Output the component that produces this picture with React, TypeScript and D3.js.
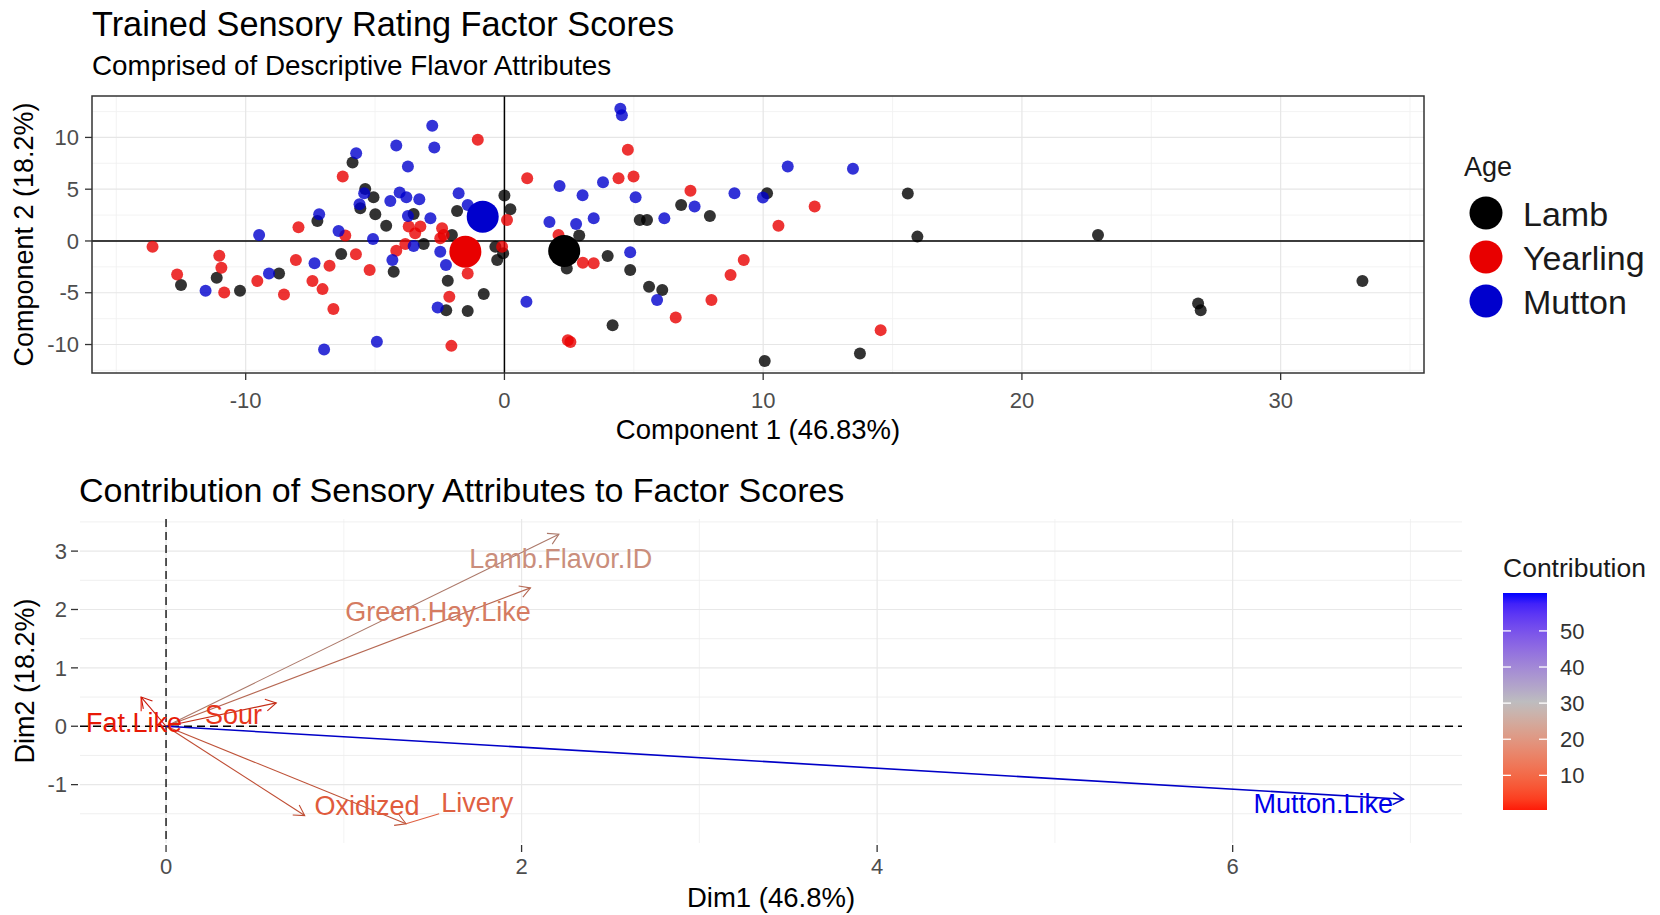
import React from 'react';
import * as d3 from 'd3';

// factor scores: [component 1, component 2]
const lambScores: [number, number][] = [
  [-5.87, 7.58], [-5.38, 5.03], [-5.06, 4.23], [-5.57, 3.16], [-4.99, 2.58], [0.0, 4.39],
  [0.23, 3.06], [-1.83, 2.9], [-3.51, 2.61], [-4.57, 1.48], [-2.03, 0.58], [-7.23, 1.94],
  [-11.12, -3.55], [-12.5, -4.26], [-10.22, -4.81], [-8.71, -3.13], [-6.31, -1.26], [-4.28, -2.97],
  [-3.12, -0.29], [-2.19, -3.84], [-2.25, -6.68], [-1.42, -6.77], [-0.8, -5.13], [-0.35, -0.55],
  [-0.28, -1.84], [-0.05, -1.19], [5.23, 2.03], [5.51, 2.03], [6.83, 3.48], [7.94, 2.42],
  [10.15, 4.61], [2.89, 0.52], [2.41, -2.65], [3.99, -1.45], [4.86, -2.81], [5.59, -4.42],
  [6.1, -4.74], [4.18, -8.13], [10.06, -11.58], [13.74, -10.87], [15.59, 4.58], [15.96, 0.42],
  [22.94, 0.58], [26.81, -6.03], [26.91, -6.68], [33.16, -3.87],
];
const yearlingScores: [number, number][] = [
  [-1.03, 9.77], [-6.25, 6.23], [0.88, 6.06], [0.1, 2.03], [-3.7, 1.39], [-3.45, 0.74],
  [-3.25, 1.39], [-2.41, 1.23], [-2.35, 0.58], [-7.96, 1.32], [-6.15, 0.52], [-13.6, -0.55],
  [-11.02, -1.42], [-10.94, -2.58], [-12.65, -3.23], [-10.83, -4.97], [-9.55, -3.87], [-8.52, -5.16],
  [-8.06, -1.84], [-5.74, -1.29], [-6.76, -2.39], [-7.42, -3.87], [-7.03, -4.65], [-6.61, -6.58],
  [-5.21, -2.81], [-4.18, -0.94], [-3.83, -0.29], [-2.48, 0.26], [-1.42, -3.13], [-2.13, -5.39],
  [-2.05, -10.13], [-0.09, -0.55], [4.77, 8.81], [4.41, 6.06], [4.99, 6.23], [7.19, 4.84],
  [11.99, 3.32], [10.59, 1.48], [2.09, 0.58], [3.03, -2.1], [3.45, -2.16], [9.25, -1.84],
  [8.74, -3.29], [8.0, -5.71], [6.62, -7.39], [2.45, -9.58], [2.55, -9.75], [14.54, -8.61],
];
const muttonScores: [number, number][] = [
  [-2.79, 11.13], [-4.18, 9.23], [-2.71, 9.03], [-5.73, 8.48], [-3.73, 7.19], [-5.42, 4.61],
  [-4.41, 3.87], [-4.05, 4.68], [-3.79, 4.23], [-3.29, 4.03], [-5.6, 3.55], [-1.77, 4.61],
  [-1.42, 3.48], [-3.73, 2.42], [-2.86, 2.19], [-7.16, 2.58], [-6.41, 0.97], [-9.48, 0.58],
  [-5.08, 0.19], [-11.55, -4.81], [-9.1, -3.13], [-7.34, -2.16], [-4.33, -1.84], [-3.51, -0.48],
  [-2.48, -1.03], [-2.26, -2.32], [-2.58, -6.42], [0.85, -5.87], [-6.97, -10.48], [-4.93, -9.74],
  [4.48, 12.77], [4.54, 12.13], [2.13, 5.32], [3.02, 4.42], [3.81, 5.68], [5.07, 4.23],
  [1.74, 1.84], [2.77, 1.65], [3.45, 2.19], [6.18, 2.19], [7.35, 3.32], [8.89, 4.61],
  [9.99, 4.19], [10.95, 7.19], [13.47, 6.97], [4.86, -1.1], [5.9, -5.71],
];
const ageGroups = ['Lamb', 'Yearling', 'Mutton'];
const ageMeans: [number, number][] = [[2.31, -0.97], [-1.51, -1.03], [-0.84, 2.35]];
const ageColors = ['#000000', '#E80000', '#0000CD'];

const scoreXTicks = [-10, 0, 10, 20, 30];
const scoreYTicks = [-10, -5, 0, 5, 10];

// variable loadings
const attrNames = ['Lamb.Flavor.ID', 'Green.Hay.Like', 'Fat.Like', 'Sour', 'Oxidized', 'Livery', 'Mutton.Like'];
const attrDim1 = [2.21, 2.05, -0.14, 0.62, 0.78, 1.35, 6.96];
const attrDim2 = [3.29, 2.37, 0.5, 0.4, -1.53, -1.67, -1.25];
const attrContrib = [21, 16, 0.4, 3, 9, 10, 60.5];
// where the (repelled) labels ended up
const attrLabelDim1 = [2.22, 1.53, -0.18, 0.38, 1.13, 1.75, 6.51];
const attrLabelDim2 = [2.87, 1.96, 0.07, 0.2, -1.35, -1.31, -1.33];

const dimXTicks = [0, 2, 4, 6];
const dimYTicks = [-1, 0, 1, 2, 3];
const contribTicks = [10, 20, 30, 40, 50];

const font = '"Liberation Sans", Arial, sans-serif';

const measure = (() => {
  let ctx: CanvasRenderingContext2D | null = null;
  return (txt: string, size: number) => {
    if (!ctx) ctx = document.createElement('canvas').getContext('2d');
    if (!ctx) return txt.length * size * 0.5;
    ctx.font = `${size}px "Liberation Sans"`;
    return ctx.measureText(txt).width;
  };
})();

const arrowHead = (x1: number, y1: number, x2: number, y2: number, len = 12) => {
  const a = Math.atan2(y2 - y1, x2 - x1);
  const s = Math.PI / 6;
  const p1 = [x2 - len * Math.cos(a - s), y2 - len * Math.sin(a - s)];
  const p2 = [x2 - len * Math.cos(a + s), y2 - len * Math.sin(a + s)];
  return `M${p1[0]},${p1[1]}L${x2},${y2}L${p2[0]},${p2[1]}`;
};

export default function App() {
  // ---------- top panel: individuals ----------
  const x1 = d3.scaleLinear().domain([-15.94, 35.54]).range([92, 1424]);
  const y1 = d3.scaleLinear().domain([-12.75, 14.0]).range([373, 96]);
  const xMinor1 = [-15, -5, 5, 15, 25, 35];
  const yMinor1 = [-12.5, -7.5, -2.5, 2.5, 7.5, 12.5];
  const groups = [lambScores, yearlingScores, muttonScores];

  // ---------- bottom panel: variables ----------
  const x2 = d3.scaleLinear().domain([-0.484, 7.29]).range([80, 1462]);
  const y2 = d3.scaleLinear().domain([-2.0, 3.55]).range([843, 519]);
  const xMinor2 = [1, 3, 5, 7];
  const yMinor2 = [-1.5, -0.5, 0.5, 1.5, 2.5, 3.5];

  const cMin = d3.min(attrContrib)!;
  const cMax = d3.max(attrContrib)!;
  const mid = 30;
  const spread = 2 * Math.max(Math.abs(cMax - mid), Math.abs(cMin - mid));
  const lowRamp = d3.interpolateLab('#FF0000', '#BEBEBE');
  const highRamp = d3.interpolateLab('#BEBEBE', '#0000FF');
  const contribColor = (v: number) => {
    const t = 0.5 + (v - mid) / spread;
    return t < 0.5 ? lowRamp(Math.max(0, t) / 0.5) : highRamp(Math.min(1, (t - 0.5) / 0.5));
  };
  const barY = d3.scaleLinear().domain([cMin, cMax]).range([810, 593]);
  const barStops = d3.range(0, 21).map(i => cMin + ((cMax - cMin) * i) / 20);

  const labelSize = 27;

  return (
    <svg width={1660} height={915} style={{ position: 'absolute', left: 0, top: 0, background: '#fff' }} fontFamily={font}>
      <defs>
        <linearGradient id="contribGrad" x1="0" y1="1" x2="0" y2="0">
          {barStops.map((v, i) => (
            <stop key={i} offset={`${(i / 20) * 100}%`} stopColor={contribColor(v)} />
          ))}
        </linearGradient>
        <clipPath id="topClip">
          <rect x={92} y={96} width={1332} height={277} />
        </clipPath>
      </defs>

      {/* titles */}
      <text x={92} y={35.5} fontSize={34.3} fill="#000">Trained Sensory Rating Factor Scores</text>
      <text x={92} y={75} fontSize={27.8} fill="#000">Comprised of Descriptive Flavor Attributes</text>

      {/* top grid */}
      <g>
        {xMinor1.map(v => <line key={'xm' + v} x1={x1(v)} x2={x1(v)} y1={96} y2={373} stroke="#F0F0F0" strokeWidth={0.8} />)}
        {yMinor1.map(v => <line key={'ym' + v} y1={y1(v)} y2={y1(v)} x1={92} x2={1424} stroke="#F0F0F0" strokeWidth={0.8} />)}
        {scoreXTicks.map(v => <line key={'xg' + v} x1={x1(v)} x2={x1(v)} y1={96} y2={373} stroke="#E6E6E6" strokeWidth={1.2} />)}
        {scoreYTicks.map(v => <line key={'yg' + v} y1={y1(v)} y2={y1(v)} x1={92} x2={1424} stroke="#E6E6E6" strokeWidth={1.2} />)}
        <line x1={x1(0)} x2={x1(0)} y1={96} y2={373} stroke="#000" strokeWidth={1.5} />
        <line y1={y1(0)} y2={y1(0)} x1={92} x2={1424} stroke="#000" strokeWidth={1.5} />
      </g>

      {/* points */}
      <g clipPath="url(#topClip)">
        {groups.map((pts, gi) =>
          pts.map((p, i) => (
            <circle key={gi + '-' + i} cx={x1(p[0])} cy={y1(p[1])} r={6} fill={ageColors[gi]} fillOpacity={0.8} />
          ))
        )}
        {ageMeans.map((p, gi) => (
          <circle key={'mean' + gi} cx={x1(p[0])} cy={y1(p[1])} r={16} fill={ageColors[gi]} />
        ))}
      </g>
      <rect x={92} y={96} width={1332} height={277} fill="none" stroke="#333" strokeWidth={1.5} />

      {/* top axes */}
      {scoreXTicks.map(v => (
        <g key={'xt' + v}>
          <line x1={x1(v)} x2={x1(v)} y1={373} y2={380} stroke="#333" strokeWidth={1.3} />
          <text x={x1(v)} y={408} textAnchor="middle" fontSize={22} fill="#4D4D4D">{v}</text>
        </g>
      ))}
      {scoreYTicks.map(v => (
        <g key={'yt' + v}>
          <line x1={85} x2={92} y1={y1(v)} y2={y1(v)} stroke="#333" strokeWidth={1.3} />
          <text x={79} y={y1(v)} dy="0.35em" textAnchor="end" fontSize={22} fill="#4D4D4D">{v}</text>
        </g>
      ))}
      <text x={758} y={439} textAnchor="middle" fontSize={27.5} fill="#000">Component 1 (46.83%)</text>
      <text transform={`translate(33,${(96 + 373) / 2}) rotate(-90)`} textAnchor="middle" fontSize={27} fill="#000">Component 2 (18.2%)</text>

      {/* age legend */}
      <text x={1464} y={176} fontSize={27} fill="#1A1A1A">Age</text>
      {ageGroups.map((g, i) => (
        <g key={g}>
          <circle cx={1486} cy={213 + i * 44} r={16.5} fill={ageColors[i]} />
          <text x={1523} y={213 + i * 44 + 12.5} fontSize={34} fill="#1A1A1A">{g}</text>
        </g>
      ))}

      {/* bottom title */}
      <text x={79} y={502} fontSize={34} fill="#000">Contribution of Sensory Attributes to Factor Scores</text>

      {/* bottom grid (minimal theme) */}
      <g>
        {xMinor2.map(v => <line key={'bxm' + v} x1={x2(v)} x2={x2(v)} y1={519} y2={843} stroke="#F0F0F0" strokeWidth={0.8} />)}
        {yMinor2.map(v => <line key={'bym' + v} y1={y2(v)} y2={y2(v)} x1={80} x2={1462} stroke="#EDEDED" strokeWidth={0.9} />)}
        {dimXTicks.map(v => <line key={'bxg' + v} x1={x2(v)} x2={x2(v)} y1={519} y2={843} stroke="#E8E8E8" strokeWidth={1.2} />)}
        {dimYTicks.map(v => <line key={'byg' + v} y1={y2(v)} y2={y2(v)} x1={80} x2={1462} stroke="#E8E8E8" strokeWidth={1.2} />)}
        <line x1={x2(0)} x2={x2(0)} y1={519} y2={843} stroke="#000" strokeWidth={1.3} strokeDasharray="8,5" />
        <line y1={y2(0)} y2={y2(0)} x1={80} x2={1462} stroke="#000" strokeWidth={1.3} strokeDasharray="8,5" />
      </g>

      {/* variable arrows */}
      <g>
        {attrNames.map((n, i) => {
          const ox = x2(0), oy = y2(0);
          const tx = x2(attrDim1[i]), ty = y2(attrDim2[i]);
          const col = d3.color(contribColor(attrContrib[i]))!.darker(0.7).formatHex();
          return (
            <g key={'arr' + n} stroke={col} fill="none" strokeWidth={n === 'Mutton.Like' ? 1.6 : 1.1}>
              <line x1={ox} y1={oy} x2={tx} y2={ty} />
              <path d={arrowHead(ox, oy, tx, ty)} />
            </g>
          );
        })}
        {attrNames.map((n, i) => {
          const lx = x2(attrLabelDim1[i]), ly = y2(attrLabelDim2[i]);
          const tx = x2(attrDim1[i]), ty = y2(attrDim2[i]);
          const col = d3.color(contribColor(attrContrib[i]))!.darker(0.25).formatHex();
          const w = measure(n, labelSize);
          const hw = w / 2 + 2, hh = 11;
          // segment from the repelled label box to its arrow tip, when far away
          const cx = Math.max(lx - hw, Math.min(lx + hw, tx));
          const cy = Math.max(ly - hh, Math.min(ly + hh, ty));
          const far = Math.hypot(cx - tx, cy - ty) > 14;
          return (
            <g key={'lab' + n}>
              {far && <line x1={cx} y1={cy} x2={tx} y2={ty} stroke={col} strokeWidth={1.1} />}
              <text x={lx} y={ly} dy="0.35em" textAnchor="middle" fontSize={labelSize} fill={col}>{n}</text>
            </g>
          );
        })}
      </g>

      {/* bottom axes */}
      {dimXTicks.map(v => (
        <g key={'bxt' + v}>
          <line x1={x2(v)} x2={x2(v)} y1={845} y2={852} stroke="#333" strokeWidth={1.3} />
          <text x={x2(v)} y={874} textAnchor="middle" fontSize={22} fill="#4D4D4D">{v}</text>
        </g>
      ))}
      {dimYTicks.map(v => (
        <g key={'byt' + v}>
          <line x1={71} x2={78} y1={y2(v)} y2={y2(v)} stroke="#333" strokeWidth={1.3} />
          <text x={67} y={y2(v)} dy="0.35em" textAnchor="end" fontSize={22} fill="#4D4D4D">{v}</text>
        </g>
      ))}
      <text x={771} y={907} textAnchor="middle" fontSize={27.5} fill="#000">Dim1 (46.8%)</text>
      <text transform={`translate(34,${(519 + 843) / 2}) rotate(-90)`} textAnchor="middle" fontSize={27} fill="#000">Dim2 (18.2%)</text>

      {/* contribution colourbar */}
      <text x={1503} y={577} fontSize={26.5} fill="#1A1A1A">Contribution</text>
      <rect x={1503} y={593} width={44} height={217} fill="url(#contribGrad)" />
      {contribTicks.map(v => (
        <g key={'ct' + v}>
          <line x1={1503} x2={1511} y1={barY(v)} y2={barY(v)} stroke="#fff" strokeWidth={1.3} />
          <line x1={1539} x2={1547} y1={barY(v)} y2={barY(v)} stroke="#fff" strokeWidth={1.3} />
          <text x={1560} y={barY(v)} dy="0.35em" fontSize={22} fill="#333">{v}</text>
        </g>
      ))}
    </svg>
  );
}
